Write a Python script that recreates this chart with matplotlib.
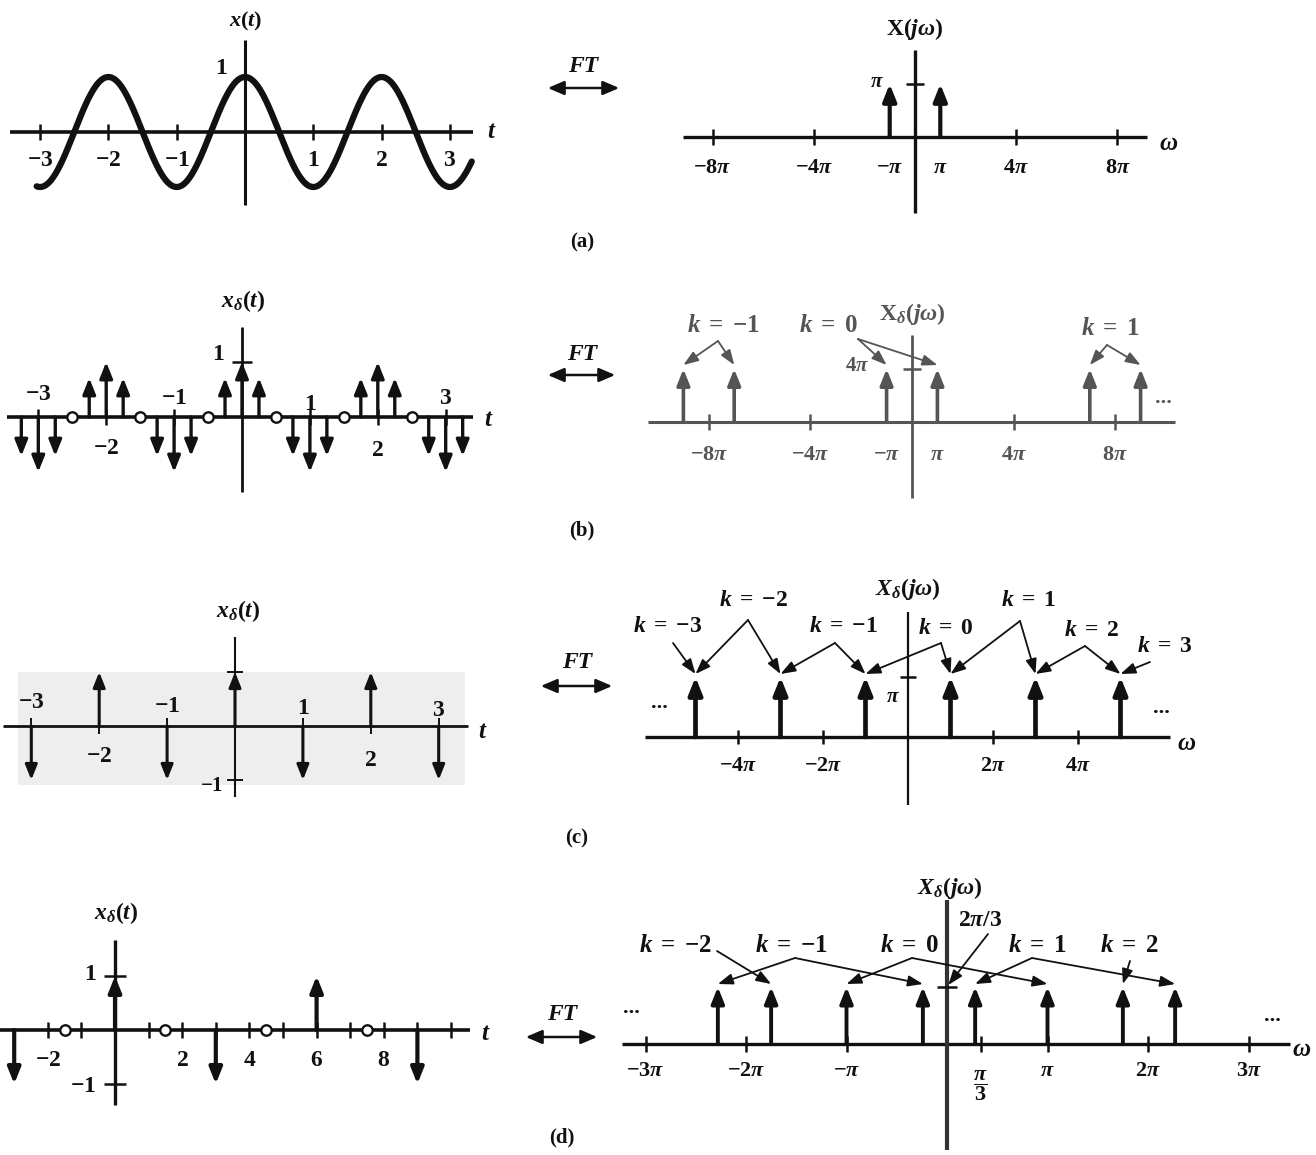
import numpy as np
import matplotlib
matplotlib.use('Agg')
import matplotlib.pyplot as plt
from matplotlib.patches import FancyArrowPatch, Rectangle

plt.rcParams.update({
    'font.family': ['Liberation Serif', 'DejaVu Serif'],
    'font.weight': 'bold',
    'mathtext.fontset': 'custom',
    'mathtext.rm': 'Liberation Serif:bold',
    'mathtext.it': 'Liberation Serif:italic:bold',
    'mathtext.bf': 'Liberation Serif:bold',
    'mathtext.sf': 'Liberation Serif',
    'mathtext.cal': 'Liberation Serif:italic',
})

PI = np.pi

# ======================= data =======================
# (a) x(t) = cos(pi t) and its spectrum
a_amplitude = 1.0
a_period = 2.0
a_t_range = (-3.05, 3.32)
a_t_ticks = [-3, -2, -1, 1, 2, 3]
a_t_ticklabels = [r'$-3$', r'$-2$', r'$-1$', r'$1$', r'$2$', r'$3$']
a_w_imp = [-PI, PI]
a_X_imp = [PI, PI]
a_w_ticks = [-8 * PI, -4 * PI, 4 * PI, 8 * PI]
a_w_labpos = [-8 * PI, -4 * PI, -PI, PI, 4 * PI, 8 * PI]
a_w_ticklabels = [r'$-8\pi$', r'$-4\pi$', r'$-\pi$', r'$\pi$', r'$4\pi$', r'$8\pi$']

# (b) sampled with T = 1/4
b_t_imp = [-3.25, -3.0, -2.75, -2.25, -2.0, -1.75, -1.25, -1.0, -0.75,
           -0.25, 0.0, 0.25, 0.75, 1.0, 1.25, 1.75, 2.0, 2.25, 2.75, 3.0, 3.25]
b_x_imp = [-0.71, -1.0, -0.71, 0.71, 1.0, 0.71, -0.71, -1.0, -0.71,
           0.71, 1.0, 0.71, -0.71, -1.0, -0.71, 0.71, 1.0, 0.71, -0.71, -1.0, -0.71]
b_t_zero = [-2.5, -1.5, -0.5, 0.5, 1.5, 2.5]
b_t_ticks = [-3, -2, -1, 1, 2, 3]
b_t_ticklabels = [r'$-3$', r'$-2$', r'$-1$', r'$1$', r'$2$', r'$3$']
b_w_imp = [-9 * PI, -7 * PI, -PI, PI, 7 * PI, 9 * PI]
b_X_imp = [4 * PI] * 6
b_w_ticks = [-8 * PI, -4 * PI, 4 * PI, 8 * PI]
b_w_labpos = [-8 * PI, -4 * PI, -PI, PI, 4 * PI, 8 * PI]
b_w_ticklabels = [r'$-8\pi$', r'$-4\pi$', r'$-\pi$', r'$\pi$', r'$4\pi$', r'$8\pi$']
b_k_values = [-1, 0, 1]
b_k_targets = [[0, 1], [2, 3], [4, 5]]

# (c) sampled with T = 1
c_t_imp = [-3, -2, -1, 0, 1, 2, 3]
c_x_imp = [-1, 1, -1, 1, -1, 1, -1]
c_t_ticks = [-3, -2, -1, 1, 2, 3]
c_t_ticklabels = [r'$-3$', r'$-2$', r'$-1$', r'$1$', r'$2$', r'$3$']
c_w_imp = [-5 * PI, -3 * PI, -PI, PI, 3 * PI, 5 * PI]
c_X_imp = [PI] * 6
c_w_ticks = [-4 * PI, -2 * PI, 2 * PI, 4 * PI]
c_w_ticklabels = [r'$-4\pi$', r'$-2\pi$', r'$2\pi$', r'$4\pi$']
c_k_values = [-3, -2, -1, 0, 1, 2, 3]
c_k_targets = [[0], [0, 1], [1, 2], [2, 3], [3, 4], [4, 5], [5]]

# (d) sampled with T = 3
d_t_imp = [-3, 0, 3, 6, 9]
d_x_imp = [-1, 1, -1, 1, -1]
d_t_circ = [-1.5, 1.5, 4.5, 7.5]
d_t_ticks = [-2, -1, 1, 2, 3, 4, 5, 6, 7, 8, 9, 10]
d_t_labpos = [-2, 2, 4, 6, 8]
d_t_ticklabels = [r'$-2$', r'$2$', r'$4$', r'$6$', r'$8$']
d_w_imp = [v * PI for v in [-2.28, -1.75, -1.0, -0.24, 0.28, 1.0, 1.75, 2.27]]
d_X_imp = [2 * PI / 3] * 8
d_w_ticks = [-3 * PI, -2 * PI, -PI, PI / 3, PI, 2 * PI, 3 * PI]
d_w_ticklabels = [r'$-3\pi$', r'$-2\pi$', r'$-\pi$', r'$\dfrac{\pi}{3}$', r'$\pi$', r'$2\pi$', r'$3\pi$']
d_k_values = [-2, -1, 0, 1, 2]
d_k_targets = [[1], [0, 3], [2, 5], [4, 7], [6]]

# ======================= figure =======================
W, H = 1316, 1155
fig = plt.figure(figsize=(W / 100, H / 100), dpi=100)
fig.patch.set_facecolor('white')
K = '#111111'
G = '#555555'


def klabel(kv):
    return r'$k\;=\;{%s}$' % (('-%d' % -kv) if kv < 0 else str(kv))


class Panel:
    def __init__(self, box, xo, xs, yo, ys):
        px0, px1, py0, py1 = box
        self.xo, self.xs, self.yo, self.ys = xo, xs, yo, ys
        self.ax = fig.add_axes([px0 / W, 1 - py1 / H, (px1 - px0) / W, (py1 - py0) / H])
        self.ax.set_xlim((px0 - xo) / xs, (px1 - xo) / xs)
        self.ax.set_ylim((yo - py1) / ys, (yo - py0) / ys)
        self.ax.axis('off')

    def X(self, px):
        return (px - self.xo) / self.xs

    def Y(self, py):
        return (self.yo - py) / self.ys

    def text(self, px, py, s, size=17, color=K, **kw):
        self.ax.text(self.X(px), self.Y(py), s, fontsize=size, color=color,
                     ha='center', va='center', **kw)

    def haxis(self, px0, px1, lw=2.2, color=K):
        self.ax.plot([self.X(px0), self.X(px1)], [0, 0], color=color, lw=lw,
                     solid_capstyle='butt', zorder=2)

    def vaxis(self, py0, py1, lw=2.0, color=K):
        self.ax.plot([0, 0], [self.Y(py0), self.Y(py1)], color=color, lw=lw,
                     solid_capstyle='butt', zorder=2)

    def xticks(self, vals, half=7, lw=1.8, color=K):
        for v in vals:
            self.ax.plot([v, v], [-half / self.ys, half / self.ys], color=color,
                         lw=lw, solid_capstyle='butt', zorder=2)

    def ytick(self, val, half=9, lw=1.8, color=K):
        self.ax.plot([-half / self.xs, half / self.xs], [val, val], color=color,
                     lw=lw, solid_capstyle='butt', zorder=2)

    def impulses(self, xs, vs, lw=2.4, color=K, hl=0.6, hw=0.24, ms=16):
        for x, v in zip(xs, vs):
            self.ax.annotate('', xy=(x, v), xytext=(x, 0), annotation_clip=False,
                             arrowprops=dict(arrowstyle=f'-|>,head_length={hl},head_width={hw}',
                                             lw=lw, color=color, shrinkA=0, shrinkB=0,
                                             mutation_scale=ms), zorder=3)

    def pointer(self, apex_px, apex_py, x, y, gap=3, lw=1.3, color=K):
        self.ax.annotate('', xy=(x, y + gap / self.ys), xytext=(self.X(apex_px), self.Y(apex_py)),
                         annotation_clip=False,
                         arrowprops=dict(arrowstyle='-|>,head_length=0.6,head_width=0.22',
                                         lw=lw, color=color, shrinkA=0, shrinkB=0,
                                         mutation_scale=15), zorder=4)


def ft_arrow(cx, ty, ay, x0, x1):
    fig.text(cx / W, 1 - ty / H, 'FT', fontsize=17, fontstyle='italic',
             fontweight='bold', ha='center', va='center', color=K)
    fig.add_artist(FancyArrowPatch((x0 / W, 1 - ay / H), (x1 / W, 1 - ay / H),
                                   transform=fig.transFigure,
                                   arrowstyle='<|-|>,head_length=0.7,head_width=0.3',
                                   mutation_scale=14, lw=1.8, color=K))


def caption(cx, cy, s):
    fig.text(cx / W, 1 - cy / H, s, fontsize=15, fontweight='bold',
             ha='center', va='center', color=K)


# ---------------- (a) left ----------------
pa = Panel((0, 520, 0, 225), xo=245, xs=68.3, yo=132, ys=55)
pa.haxis(10, 473, lw=2.6)
pa.vaxis(40, 205, lw=2.2)
pa.xticks(a_t_ticks, half=8)
ta = np.linspace(a_t_range[0], a_t_range[1], 800)
pa.ax.plot(ta, a_amplitude * np.cos(2 * PI * ta / a_period), color=K, lw=4.5,
           solid_capstyle='round', zorder=3)
for v, s in zip(a_t_ticks, a_t_ticklabels):
    pa.ax.text(v, pa.Y(160), s, fontsize=17, ha='center', va='center', color=K)
pa.text(221, 68, r'$1$')
pa.text(246, 21, r'$x(t)$', size=16)
pa.text(492, 131, r'$t$', size=18)

# ---------------- (a) right ----------------
pA = Panel((660, 1200, 0, 225), xo=915, xs=25.3 / PI, yo=137, ys=53 / PI)
pA.haxis(683, 1147, lw=2.4)
pA.vaxis(50, 213, lw=2.4)
pA.xticks(a_w_ticks, half=8)
pA.ytick(PI, half=9)
pA.impulses(a_w_imp, a_X_imp, lw=3.0, ms=17)
for v, s in zip(a_w_labpos, a_w_ticklabels):
    pA.ax.text(v, pA.Y(168), s, fontsize=16, ha='center', va='center', color=K)
pA.text(877, 82, r'$\pi$', size=15)
pA.text(915, 29, r'$\mathbf{X}(j\omega)$', size=17)
pA.text(1169, 143, r'$\omega$', size=18)

ft_arrow(583, 66, 88, 545, 622)
caption(582, 242, '(a)')

# ---------------- (b) left ----------------
pb = Panel((0, 520, 280, 505), xo=242, xs=67.9, yo=417, ys=55)
pb.haxis(7, 473, lw=2.6)
pb.vaxis(327, 492, lw=2.0)
pb.xticks(b_t_ticks, half=8)
pb.ytick(1, half=10)
pb.impulses(b_t_imp, b_x_imp, lw=2.4, ms=16)
pb.ax.plot(b_t_zero, [0] * len(b_t_zero), 'o', mfc='white', mec=K, ms=7.5,
           mew=1.7, zorder=5)
b_lab_py = [394, 448, 398, 404, 450, 398]
for v, s, py in zip(b_t_ticks, b_t_ticklabels, b_lab_py):
    pb.ax.text(v, pb.Y(py), s, fontsize=17, ha='center', va='center', color=K)
pb.text(218, 355, r'$1$')
pb.text(243, 301, r'$x_{\delta}(t)$', size=17)
pb.text(489, 420, r'$t$', size=18)

# ---------------- (b) right ----------------
pB = Panel((640, 1200, 290, 510), xo=912, xs=25.4 / PI, yo=422, ys=53 / (4 * PI))
pB.haxis(648, 1175, lw=2.2, color=G)
pB.vaxis(335, 498, lw=2.0, color=G)
pB.xticks(b_w_ticks, half=8, color=G)
pB.ytick(4 * PI, half=9, color=G)
pB.impulses(b_w_imp, b_X_imp, lw=2.6, color=G, ms=16)
for v, s in zip(b_w_labpos, b_w_ticklabels):
    pB.ax.text(v, pB.Y(455), s, fontsize=16, ha='center', va='center', color=G)
b_k_layout = [(723, 326, 718, 341), (828, 326, 858, 339), (1110, 329, 1107, 345)]
for kv, tg, (lx, ly, ax_, ay) in zip(b_k_values, b_k_targets, b_k_layout):
    s = r'$\mathcal{k}\;\mathsf{=}\;\mathsf{%s}$' % ('-1' if kv < 0 else str(kv))
    pB.text(lx, ly, s, size=18, color=G)
    for i in tg:
        pB.pointer(ax_, ay, b_w_imp[i], b_X_imp[i], gap=4, color=G)
pB.text(857, 366, r'$4\pi$', size=15, color=G)
pB.text(912, 314, r'$\mathsf{X}_{\mathcal{\delta}}\mathsf{(}\mathcal{j\omega}\mathsf{)}$', size=17, color=G)
pB.text(1163, 398, '...', size=16, color=G)

ft_arrow(582, 355, 375, 545, 618)
caption(582, 530, '(b)')

# ---------------- (c) left ----------------
pc = Panel((0, 520, 590, 815), xo=235, xs=67.9, yo=726, ys=54)
pc.ax.add_patch(Rectangle((pc.X(18), pc.Y(785)), (465 - 18) / pc.xs, (785 - 672) / pc.ys,
                          facecolor='#eeeeee', edgecolor='none', zorder=0))
pc.haxis(3, 468, lw=2.0)
pc.vaxis(637, 797, lw=1.5)
pc.xticks(c_t_ticks, half=8, lw=1.4)
pc.ytick(1, half=8, lw=1.4)
pc.ytick(-1, half=8, lw=1.4)
pc.impulses(c_t_imp, c_x_imp, lw=2.2, ms=15)
c_lab_py = [703, 757, 707, 708, 760, 710]
for v, s, py in zip(c_t_ticks, c_t_ticklabels, c_lab_py):
    pc.ax.text(v, pc.Y(py), s, fontsize=17, ha='center', va='center', color=K)
pc.text(212, 786, r'$-1$', size=15)
pc.text(238, 611, r'$x_{\delta}(t)$', size=17)
pc.text(483, 732, r'$t$', size=18)

# ---------------- (c) right ----------------
pC = Panel((620, 1210, 570, 815), xo=908, xs=42.5 / PI, yo=737, ys=60 / PI)
pC.haxis(645, 1170, lw=2.4)
pC.vaxis(612, 805, lw=1.6)
pC.xticks(c_w_ticks, half=7)
pC.ytick(PI, half=8)
pC.impulses(c_w_imp, c_X_imp, lw=3.4, ms=17)
for v, s in zip(c_w_ticks, c_w_ticklabels):
    pC.ax.text(v, pC.Y(766), s, fontsize=16, ha='center', va='center', color=K)
c_k_layout = [(668, 627, 673, 643), (754, 601, 748, 620), (843, 627, 835, 643),
              (946, 628, 941, 643), (1029, 601, 1020, 621), (1092, 631, 1085, 646),
              (1165, 646, 1150, 662)]
for kv, tg, (lx, ly, ax_, ay) in zip(c_k_values, c_k_targets, c_k_layout):
    pC.text(lx, ly, klabel(kv), size=17)
    for i in tg:
        pC.pointer(ax_, ay, c_w_imp[i], c_X_imp[i], gap=3)
pC.text(893, 697, r'$\pi$', size=15)
pC.text(908, 589, r'$X_{\delta}(j\omega)$', size=17)
pC.text(659, 703, '...', size=16)
pC.text(1161, 708, '...', size=16)
pC.text(1187, 743, r'$\omega$', size=18)

ft_arrow(577, 663, 686, 538, 615)
caption(577, 838, '(c)')

# ---------------- (d) left ----------------
pd = Panel((0, 520, 880, 1110), xo=115, xs=33.6, yo=1030, ys=54)
pd.haxis(0, 470, lw=2.6)
pd.vaxis(940, 1105, lw=2.4)
pd.xticks(d_t_ticks, half=8)
pd.ytick(1, half=11)
pd.ytick(-1, half=11)
pd.impulses(d_t_imp, d_x_imp, lw=3.0, ms=16)
pd.ax.plot(d_t_circ, [0] * len(d_t_circ), 'o', mfc='white', mec=K, ms=7.5,
           mew=1.7, zorder=5)
for v, s in zip(d_t_labpos, d_t_ticklabels):
    pd.ax.text(v, pd.Y(1060), s, fontsize=17, ha='center', va='center', color=K)
pd.text(90, 975, r'$1$')
pd.text(83, 1087, r'$-1$')
pd.text(116, 913, r'$x_{\delta}(t)$', size=17)
pd.text(486, 1033, r'$t$', size=18)

# ---------------- (d) right ----------------
pD = Panel((600, 1316, 865, 1155), xo=947, xs=100.5 / PI, yo=1044, ys=57 / (2 * PI / 3))
pD.haxis(622, 1290, lw=2.4)
pD.vaxis(900, 1150, lw=3.0, color='#333333')
pD.xticks(d_w_ticks, half=8)
pD.ytick(2 * PI / 3, half=10)
pD.impulses(d_w_imp, d_X_imp, lw=2.8, ms=16)
for v, s in zip(d_w_ticks, d_w_ticklabels):
    py = 1086 if 'frac' in s else 1071
    pD.ax.text(v, pD.Y(py), s, fontsize=16, ha='center', va='center', color=K)
d_k_layout = [(675, 946, 717, 951), (791, 946, 795, 958), (909, 946, 912, 958),
              (1037, 945, 1032, 958), (1129, 945, 1130, 961)]
for kv, tg, (lx, ly, ax_, ay) in zip(d_k_values, d_k_targets, d_k_layout):
    pD.text(lx, ly, klabel(kv), size=18)
    for i in tg:
        pD.pointer(ax_, ay, d_w_imp[i], d_X_imp[i], gap=3)
pD.text(980, 921, r'$2\pi/3$', size=17)
pD.pointer(988, 934, 0.04, 2 * PI / 3, gap=2)
pD.text(950, 888, r'$X_{\delta}(j\omega)$', size=17)
pD.text(631, 1008, '...', size=16)
pD.text(1272, 1016, '...', size=16)
pD.text(1302, 1050, r'$\omega$', size=18)

ft_arrow(562, 1015, 1037, 523, 600)
caption(562, 1137, '(d)')

fig.savefig('out.png', dpi=100, facecolor='white')
